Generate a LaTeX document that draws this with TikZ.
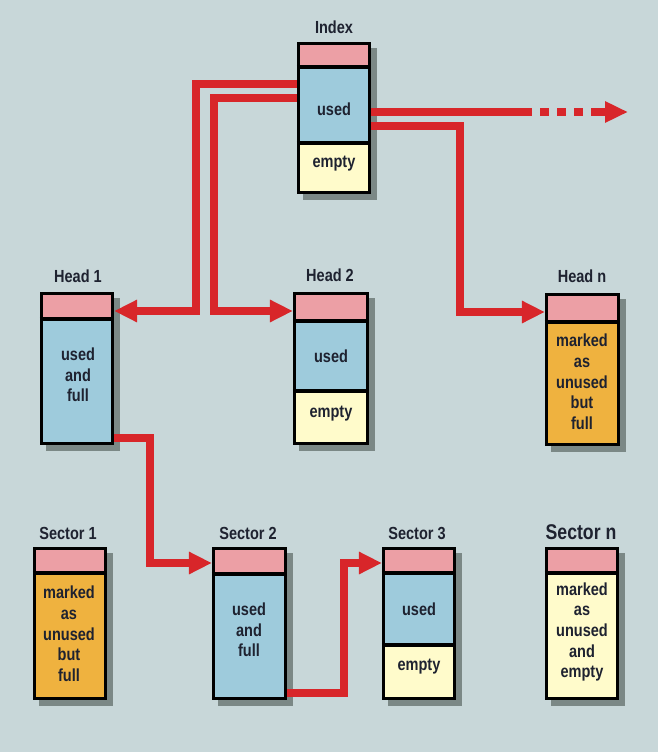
\documentclass[tikz,border=0pt]{standalone}
\usepackage{fontspec}
\setmainfont{Liberation Sans}[FakeStretch=0.83]
\usetikzlibrary{arrows.meta,fit}
\definecolor{bgc}{HTML}{C8D7D9}
\definecolor{pinkc}{HTML}{EC9FA5}
\definecolor{bluec}{HTML}{9ECBDC}
\definecolor{yellowc}{HTML}{FFFBCB}
\definecolor{orangec}{HTML}{EFB23F}
\definecolor{redc}{HTML}{D8262A}
\definecolor{shadowc}{HTML}{7B8886}
\definecolor{textc}{HTML}{1E2230}
\tikzset{
  frame/.style={draw=black, line width=3.3pt, inner sep=0pt},
  divider/.style={draw=black, line width=3.3pt},
  redline/.style={draw=redc, line width=7.5pt, line join=miter, line cap=butt},
  redarrow/.style={redline, -{Triangle[length=23pt,width=21pt]}},
  title/.style={font=\fontsize{17.5}{20}\selectfont\bfseries, text=textc, inner sep=0pt},
  content/.style={font=\fontsize{17.5}{20.7}\selectfont\bfseries, text=textc, align=center, inner sep=0pt},
}
\begin{document}
\begin{tikzpicture}[x=1pt,y=-1pt]
\useasboundingbox[fill=bgc] (0,0) rectangle (658,752);

% ---------- Index ----------
\fill[shadowc] (303,48) rectangle (377,200);
\fill[pinkc] (297,42) rectangle (371,67);
\fill[bluec] (297,67) rectangle (371,143);
\fill[yellowc] (297,143) rectangle (371,194);
\node[frame, fit={(298.6,43.6) (369.4,192.4)}] (index) {};
\draw[divider] (index.west|-0,67) -- (index.east|-0,67);
\draw[divider] (index.west|-0,143) -- (index.east|-0,143);
\node[title] (tindex) at (334,27) {Index};
\node[content] (iused) at (334,109) {used};
\node[content] (iempty) at (334,164) {empty};

% ---------- Head 1 ----------
\fill[shadowc] (46,298) rectangle (120,451);
\fill[pinkc] (40,292) rectangle (114,319);
\fill[bluec] (40,319) rectangle (114,445);
\node[frame, fit={(41.6,293.6) (112.4,443.4)}] (head1) {};
\draw[divider] (head1.west|-0,319) -- (head1.east|-0,319);
\node[title] (thead1) at (78,276) {Head 1};
\node[content] (h1text) at (78,375) {used\\and\\full};

% ---------- Head 2 ----------
\fill[shadowc] (299,298) rectangle (375,451);
\fill[pinkc] (293,292) rectangle (369,321);
\fill[bluec] (293,321) rectangle (369,391);
\fill[yellowc] (293,391) rectangle (369,445);
\node[frame, fit={(294.6,293.6) (367.4,443.4)}] (head2) {};
\draw[divider] (head2.west|-0,321) -- (head2.east|-0,321);
\draw[divider] (head2.west|-0,391) -- (head2.east|-0,391);
\node[title] (thead2) at (330,275) {Head 2};
\node[content] (h2used) at (331,356) {used};
\node[content] (h2empty) at (331,414) {empty};

% ---------- Head n ----------
\fill[shadowc] (551,299) rectangle (626,452);
\fill[pinkc] (545,293) rectangle (620,322);
\fill[orangec] (545,322) rectangle (620,446);
\node[frame, fit={(546.6,294.6) (618.4,444.4)}] (headn) {};
\draw[divider] (headn.west|-0,322) -- (headn.east|-0,322);
\node[title] (theadn) at (582,276) {Head n};
\node[content] (hntext) at (582,382) {marked\\as\\unused\\but\\full};

% ---------- Sector 1 ----------
\fill[shadowc] (39,553) rectangle (113,706);
\fill[pinkc] (33,547) rectangle (107,573);
\fill[orangec] (33,573) rectangle (107,700);
\node[frame, fit={(34.6,548.6) (105.4,698.4)}] (sector1) {};
\draw[divider] (sector1.west|-0,573) -- (sector1.east|-0,573);
\node[title] (tsector1) at (68,533) {Sector 1};
\node[content] (s1text) at (69,634) {marked\\as\\unused\\but\\full};

% ---------- Sector 2 ----------
\fill[shadowc] (218,553) rectangle (293,706);
\fill[pinkc] (212,547) rectangle (287,574);
\fill[bluec] (212,574) rectangle (287,700);
\node[frame, fit={(213.6,548.6) (285.4,698.4)}] (sector2) {};
\draw[divider] (sector2.west|-0,574) -- (sector2.east|-0,574);
\node[title] (tsector2) at (248,533) {Sector 2};
\node[content] (s2text) at (249,630) {used\\and\\full};

% ---------- Sector 3 ----------
\fill[shadowc] (388,553) rectangle (462,706);
\fill[pinkc] (382,547) rectangle (456,573);
\fill[bluec] (382,573) rectangle (456,645);
\fill[yellowc] (382,645) rectangle (456,700);
\node[frame, fit={(383.6,548.6) (454.4,698.4)}] (sector3) {};
\draw[divider] (sector3.west|-0,573) -- (sector3.east|-0,573);
\draw[divider] (sector3.west|-0,645) -- (sector3.east|-0,645);
\node[title] (tsector3) at (417,533) {Sector 3};
\node[content] (s3used) at (419,609) {used};
\node[content] (s3empty) at (419,667) {empty};

% ---------- Sector n ----------
\fill[shadowc] (551,553) rectangle (625,706);
\fill[pinkc] (545,547) rectangle (619,573);
\fill[yellowc] (545,573) rectangle (619,700);
\node[frame, fit={(546.6,548.6) (617.4,698.4)}] (sectorn) {};
\draw[divider] (sectorn.west|-0,573) -- (sectorn.east|-0,573);
\node[title, font=\fontsize{21.3}{24}\selectfont\bfseries] (tsectorn) at (581,532) {Sector n};
\node[content] (sntext) at (582,632) {marked\\as\\unused\\and\\empty};

% ---------- connectors ----------
\draw[redarrow] (index.west|-0,84) -| (196,311) -- (head1.east|-0,311);
\draw[redarrow] (index.west|-0,98) -| (214,311) -- (head2.west|-0,311);
\draw[redarrow] (index.east|-0,126) -| (460,312) -- (headn.west|-0,312);
\draw[redarrow] (head1.east|-0,438) -| (150,563) -- (sector2.west|-0,563);
\draw[redarrow] (sector2.east|-0,693) -| (344,563) -- (sector3.west|-0,563);

\coordinate (d1) at (532,112);
\coordinate (d2) at (540,112);
\coordinate (d3) at (583,112);
\coordinate (d4) at (591,112);
\coordinate (d5) at (628,112);
\draw[redline] (index.east|-0,112) -- (d1);
\draw[redline, dash pattern=on 8.7pt off 8.3pt] (d2) -- (d3);
\draw[redline, -{Triangle[length=23pt,width=20pt]}] (d4) -- (d5);
\end{tikzpicture}
\end{document}
